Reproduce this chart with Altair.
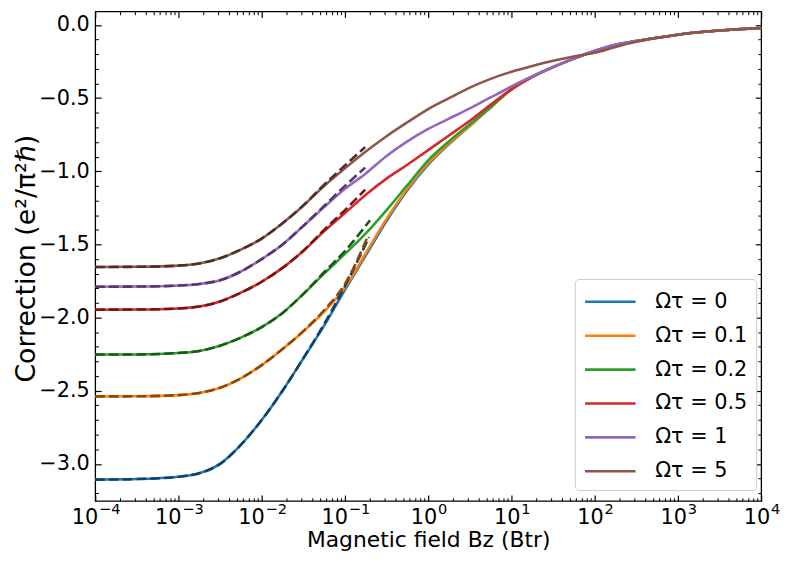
import altair as alt
import pandas as pd

# ---------------- data ----------------
labels = ["Ωτ = 0", "Ωτ = 0.1", "Ωτ = 0.2", "Ωτ = 0.5", "Ωτ = 1", "Ωτ = 5"]
colors = ["#1f77b4", "#ff7f0e", "#2ca02c", "#d62728", "#9467bd", "#8c564b"]
dash_colors = ["#114163", "#8c4608", "#185818", "#761516", "#513968", "#4d2f29"]

B_field = [1e-4, 3.16e-4, 1e-3, 1.78e-3, 3.16e-3, 5.62e-3, 1e-2, 1.78e-2, 3.16e-2,
           5.62e-2, 0.1, 0.178, 0.316, 0.562, 1.0, 1.78, 3.16, 5.62, 10.0, 17.8,
           31.6, 56.2, 100.0, 178.0, 316.0, 562.0, 1000.0, 3162.0, 10000.0]

corr_0 = [-3.108, -3.104, -3.088, -3.064, -3.0, -2.87, -2.70, -2.50, -2.28, -2.055,
          -1.81, -1.575, -1.34, -1.13, -0.955, -0.815, -0.69, -0.565, -0.44, -0.355,
          -0.288, -0.23, -0.178, -0.137, -0.11, -0.087, -0.066, -0.038, -0.021]
corr_01 = [-2.539, -2.538, -2.530, -2.515, -2.48, -2.415, -2.325, -2.215, -2.095, -1.96,
           -1.795, -1.56, -1.325, -1.12, -0.945, -0.81, -0.688, -0.563, -0.44, -0.355,
           -0.288, -0.23, -0.178, -0.137, -0.11, -0.087, -0.066, -0.038, -0.021]
corr_02 = [-2.253, -2.252, -2.242, -2.228, -2.192, -2.137, -2.065, -1.968, -1.84, -1.70,
           -1.565, -1.425, -1.265, -1.095, -0.925, -0.795, -0.678, -0.56, -0.44, -0.355,
           -0.288, -0.23, -0.178, -0.137, -0.11, -0.087, -0.066, -0.038, -0.021]
corr_05 = [-1.946, -1.945, -1.938, -1.925, -1.89, -1.83, -1.755, -1.66, -1.545, -1.41,
           -1.285, -1.16, -1.05, -0.955, -0.855, -0.755, -0.655, -0.545, -0.44, -0.355,
           -0.288, -0.23, -0.178, -0.137, -0.11, -0.087, -0.066, -0.038, -0.021]
corr_1 = [-1.789, -1.788, -1.781, -1.77, -1.745, -1.685, -1.60, -1.50, -1.375, -1.245,
          -1.12, -1.015, -0.895, -0.795, -0.71, -0.64, -0.57, -0.495, -0.42, -0.35,
          -0.287, -0.228, -0.176, -0.134, -0.109, -0.087, -0.066, -0.038, -0.021]
corr_5 = [-1.654, -1.653, -1.645, -1.63, -1.595, -1.535, -1.46, -1.355, -1.235, -1.10,
          -0.98, -0.865, -0.76, -0.665, -0.575, -0.50, -0.428, -0.368, -0.32, -0.28,
          -0.245, -0.215, -0.19, -0.15, -0.115, -0.088, -0.066, -0.038, -0.021]
solid_series = [corr_0, corr_01, corr_02, corr_05, corr_1, corr_5]

# low-field asymptotes (dashed)
dash_B = [1e-4, 3.16e-4, 1e-3, 1.78e-3, 3.16e-3, 5.62e-3, 1e-2, 1.78e-2, 3.16e-2, 5.62e-2, 0.1]
dash_end_B = [0.195, 0.19, 0.2, 0.175, 0.175, 0.175]
asym_0 = [-3.108, -3.104, -3.088, -3.064, -3.0, -2.87, -2.70, -2.50, -2.278, -2.045, -1.785, -1.45]
asym_01 = [-2.539, -2.538, -2.530, -2.515, -2.48, -2.415, -2.325, -2.215, -2.093, -1.95, -1.77, -1.44]
asym_02 = [-2.253, -2.252, -2.242, -2.228, -2.192, -2.137, -2.065, -1.968, -1.838, -1.69, -1.545, -1.335]
asym_05 = [-1.946, -1.945, -1.938, -1.925, -1.89, -1.83, -1.755, -1.66, -1.543, -1.40, -1.265, -1.125]
asym_1 = [-1.789, -1.788, -1.781, -1.77, -1.745, -1.685, -1.60, -1.50, -1.373, -1.237, -1.10, -0.975]
asym_5 = [-1.654, -1.653, -1.645, -1.63, -1.595, -1.535, -1.46, -1.355, -1.233, -1.092, -0.96, -0.835]
dash_series = [asym_0, asym_01, asym_02, asym_05, asym_1, asym_5]

x_major = [1e-4, 1e-3, 1e-2, 1e-1, 1e0, 1e1, 1e2, 1e3, 1e4]
x_exponents = ["−4", "−3", "−2", "−1", "0", "1", "2", "3", "4"]
x_minor = [k * 10.0 ** d for d in range(-4, 4) for k in range(2, 10)]
y_major = [-3.0, -2.5, -2.0, -1.5, -1.0, -0.5, 0.0]
y_minor = [round(-3.2 + 0.1 * i, 1) for i in range(33)
           if abs(round(-3.2 + 0.1 * i, 1) * 2 - round(round(-3.2 + 0.1 * i, 1) * 2)) > 1e-6]

# ---------------- tables ----------------
rows = []
for lab, vals in zip(labels, solid_series):
    for b, v in zip(B_field, vals):
        rows.append({"B": b, "v": v, "series": lab})
solid_df = pd.DataFrame(rows)

rows = []
for lab, dc, vals, bend in zip(labels, dash_colors, dash_series, dash_end_B):
    for b, v in zip(dash_B + [bend], vals):
        rows.append({"B": b, "v": v, "series": lab, "dcolor": dc})
dash_df = pd.DataFrame(rows)

FONT = "DejaVu Sans"
xscale = alt.Scale(type="log", domain=[1e-4, 1e4], nice=False)
yscale = alt.Scale(domain=[-3.254, 0.0928], nice=False, zero=False)
MAJ = {"expr": "-6"}
MIN = {"expr": "-3.3"}

def X(axis):
    return alt.X("B:Q", scale=xscale, axis=axis)

def Y(axis):
    return alt.Y("v:Q", scale=yscale, axis=axis)

exp_expr = "[" + ",".join("'%s'" % e for e in x_exponents) + "][round(log(datum.value)/LN10)+4]"

ax_bottom = alt.Axis(orient="bottom", values=x_major, tickSize=MAJ, tickWidth=1.2,
                     labelExpr="'10'", labelAlign="right", labelBaseline="alphabetic",
                     labelOffset={"expr": "datum.value < 1 ? 2.5 : 8.7"}, labelPadding=29,
                     labelFontSize=21, labelFlush=False, labelOverlap=False,
                     domain=False, grid=False,
                     title="Magnetic field Bz (Btr)", titleFontSize=22, titleY=46,
                     titleBaseline="alphabetic")
ax_left = alt.Axis(orient="left", values=y_major, tickSize=MAJ, tickWidth=1.2,
                   format=".1f", labelAlign="right", labelBaseline="middle",
                   labelPadding=12, labelFontSize=21, labelFlush=False, labelOverlap=False,
                   domain=False, grid=False,
                   title="Correction (e²/π²ℏ)", titleFontSize=27, titleAngle=270,
                   titleX=-61, titleY=249, titleAlign="center", titleBaseline="alphabetic")
ax_top = alt.Axis(orient="top", values=x_major, tickSize=MAJ, tickWidth=1.2, labels=False,
                  domain=False, grid=False, title=None)
ax_right = alt.Axis(orient="right", values=y_major, tickSize=MAJ, tickWidth=1.2, labels=False,
                    domain=False, grid=False, title=None)
ax_bottom_min = alt.Axis(orient="bottom", values=x_minor, tickSize=MIN, tickWidth=1.0,
                         labels=False, domain=False, grid=False, title=None)
ax_left_min = alt.Axis(orient="left", values=y_minor, tickSize=MIN, tickWidth=1.0,
                       labels=False, domain=False, grid=False, title=None)
ax_top_min = alt.Axis(orient="top", values=x_minor, tickSize=MIN, tickWidth=1.0,
                      labels=False, domain=False, grid=False, title=None)
ax_right_min = alt.Axis(orient="right", values=y_minor, tickSize=MIN, tickWidth=1.0,
                        labels=False, domain=False, grid=False, title=None)
ax_exp = alt.Axis(orient="bottom", values=x_major, ticks=False, domain=False, grid=False,
                  labelExpr=exp_expr, labelAlign="left", labelBaseline="alphabetic",
                  labelOffset={"expr": "datum.value < 1 ? 3.3 : 9.5"}, labelPadding=13,
                  labelFontSize=14.7, labelFlush=False, labelOverlap=False, title=None)

legend = alt.Legend(orient="none", legendX=484, legendY=270, title=None,
                    symbolType="M-1,0H3", symbolSize=650, symbolStrokeWidth=2.6,
                    labelFontSize=21, labelFont=FONT, labelColor="black", labelOffset=43.5,
                    rowPadding=9.2, padding=8.5, fillColor="white", strokeColor="#cccccc",
                    cornerRadius=4)

solid = alt.Chart(solid_df).mark_line(strokeWidth=2.6, interpolate="monotone").encode(
    x=X(ax_bottom), y=Y(ax_left),
    color=alt.Color("series:N", scale=alt.Scale(domain=labels, range=colors), legend=legend),
)
dashed = alt.Chart(dash_df).mark_line(strokeWidth=2.6, strokeDash=[9.7, 4.2],
                                      interpolate="monotone").encode(
    x=X(ax_top), y=Y(ax_right),
    stroke=alt.Stroke("dcolor:N", scale=None), detail="series:N",
)
minor1 = alt.Chart(dash_df).mark_line(opacity=0).encode(
    x=X(ax_bottom_min), y=Y(ax_left_min), detail="series:N")
minor2 = alt.Chart(dash_df).mark_line(opacity=0).encode(
    x=X(ax_top_min), y=Y(ax_right_min), detail="series:N")
expo = alt.Chart(dash_df).mark_line(opacity=0).encode(
    x=X(ax_exp), y=Y(None), detail="series:N")

chart = alt.layer(solid, dashed, minor1, minor2, expo).resolve_axis(
    x="independent", y="independent"
).properties(
    width=672, height=494,
    autosize=alt.AutoSizeParams(type="none"),
    padding={"left": 88, "top": 1, "right": 20, "bottom": 51},
).configure_view(
    stroke="black", strokeWidth=1.3
).configure_axis(
    tickColor="black", labelColor="black", titleColor="black",
    labelFont=FONT, titleFont=FONT, titleFontWeight="normal",
)

chart.save("out.html", embed_options={"renderer": "svg", "actions": False})
